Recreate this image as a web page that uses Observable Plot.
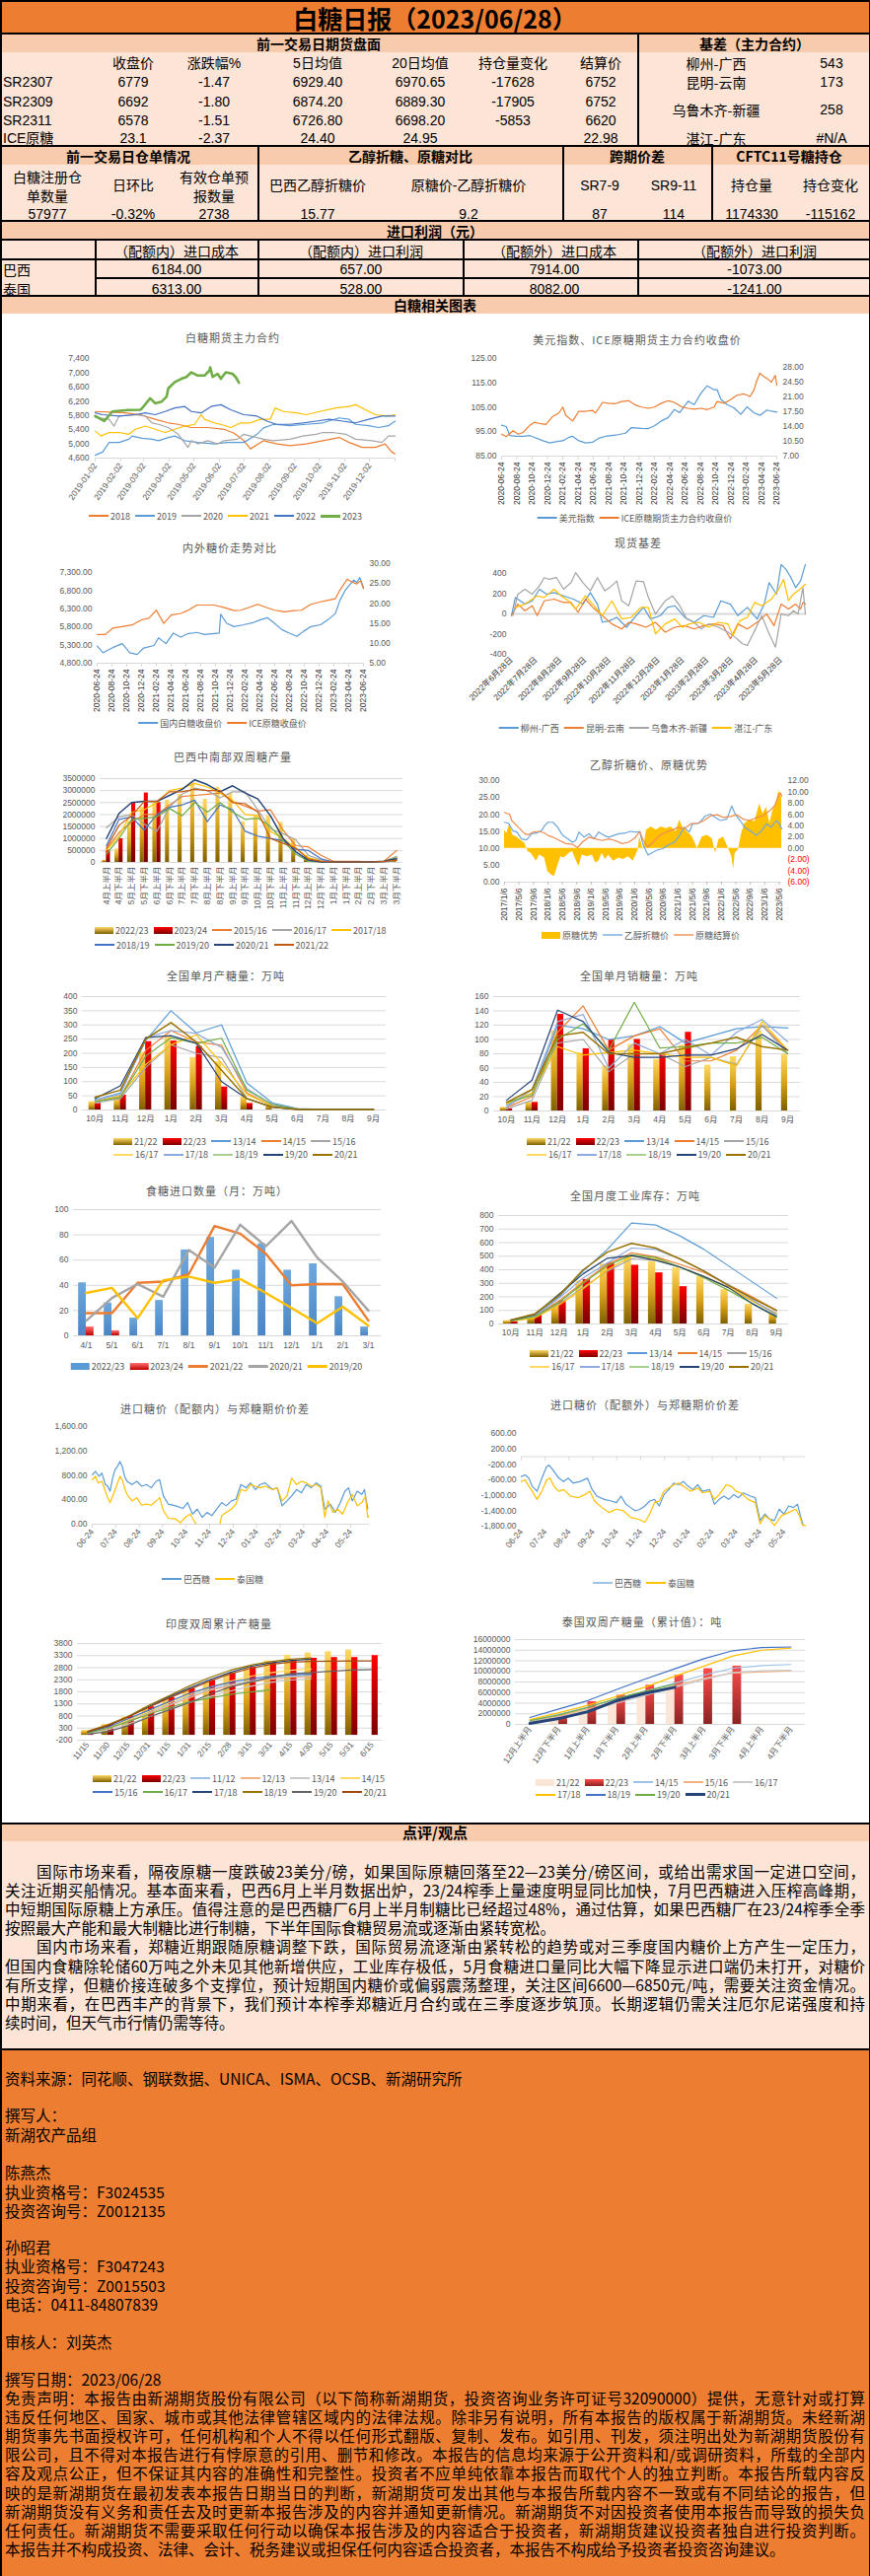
<!DOCTYPE html>
<html><head><meta charset="utf-8">
<script src="https://cdn.jsdelivr.net/npm/d3@7"></script>
<script src="https://cdn.jsdelivr.net/npm/@observablehq/plot@0.6"></script>
<style>
html,body{margin:0;padding:0;}
body{width:882px;height:2612px;position:relative;overflow:hidden;background:#fff;font-family:"Noto Sans CJK SC","Noto Sans",sans-serif;}
.abs{position:absolute;}
.t{position:absolute;white-space:nowrap;transform:translate(-50%,-50%);line-height:1.15;}
.l{position:absolute;white-space:nowrap;transform:translateY(-50%);line-height:1.15;}
</style></head><body>
<svg width="0" height="0" style="position:absolute;left:0;top:0">
<defs>
<linearGradient id="gGold" x1="0" y1="0" x2="0" y2="1"><stop offset="0" stop-color="#FFD966"/><stop offset="0.5" stop-color="#D9A21A"/><stop offset="1" stop-color="#7F6000"/></linearGradient>
<linearGradient id="gRed" x1="0" y1="0" x2="0" y2="1"><stop offset="0" stop-color="#FF0000"/><stop offset="1" stop-color="#7A0000"/></linearGradient>
<linearGradient id="gRed2" x1="0" y1="0" x2="0" y2="1"><stop offset="0" stop-color="#FF4B4B"/><stop offset="1" stop-color="#8B2323"/></linearGradient>
<linearGradient id="gRedL" x1="0" y1="0" x2="0" y2="1"><stop offset="0" stop-color="#FF7070"/><stop offset="1" stop-color="#C00000"/></linearGradient>
<linearGradient id="gBlue" x1="0" y1="0" x2="0" y2="1"><stop offset="0" stop-color="#6FA8DC"/><stop offset="1" stop-color="#4A86C5"/></linearGradient>
</defs></svg>
<script>
// ================= TABLE DATA =================
const reportTitle = "白糖日报（2023/06/28）";
const futHeader = "前一交易日期货盘面";
const futCols = ["收盘价","涨跌幅%","5日均值","20日均值","持仓量变化","结算价"];
const futRows = ["SR2307","SR2309","SR2311","ICE原糖"];
const futVals = [
  ["6779","-1.47","6929.40","6970.65","-17628","6752"],
  ["6692","-1.80","6874.20","6889.30","-17905","6752"],
  ["6578","-1.51","6726.80","6698.20","-5853","6620"],
  ["23.1","-2.37","24.40","24.95","","22.98"]];
const basisHeader = "基差（主力合约）";
const basisNames = ["柳州-广西","昆明-云南","乌鲁木齐-新疆","湛江-广东"];
const basisVals = ["543","173","258","#N/A"];
const sec2Headers = ["前一交易日仓单情况","乙醇折糖、原糖对比","跨期价差","CFTC11号糖持仓"];
const sec2Cols = [["白糖注册仓","单数量"],["日环比"],["有效仓单预","报数量"],["巴西乙醇折糖价"],["原糖价-乙醇折糖价"],["SR7-9"],["SR9-11"],["持仓量"],["持仓变化"]];
const sec2Vals = ["57977","-0.32%","2738","15.77","9.2","87","114","1174330","-115162"];
const profitHeader = "进口利润（元）";
const profitCols = ["（配额内）进口成本","（配额内）进口利润","（配额外）进口成本","（配额外）进口利润"];
const profitRows = ["巴西","泰国"];
const profitVals = [["6184.00","657.00","7914.00","-1073.00"],["6313.00","528.00","8082.00","-1241.00"]];
const chartsHeader = "白糖相关图表";
const commentHeader = "点评/观点";
const commentLines = [
"国际市场来看，隔夜原糖一度跌破23美分/磅，如果国际原糖回落至22—23美分/磅区间，或给出需求国一定进口空间，",
"关注近期买船情况。基本面来看，巴西6月上半月数据出炉，23/24榨季上量速度明显同比加快，7月巴西糖进入压榨高峰期，",
"中短期国际原糖上方承压。值得注意的是巴西糖厂6月上半月制糖比已经超过48%，通过估算，如果巴西糖厂在23/24榨季全季",
"按照最大产能和最大制糖比进行制糖，下半年国际食糖贸易流或逐渐由紧转宽松。",
"国内市场来看，郑糖近期跟随原糖调整下跌，国际贸易流逐渐由紧转松的趋势或对三季度国内糖价上方产生一定压力，",
"但国内食糖除轮储60万吨之外未见其他新增供应，工业库存极低，5月食糖进口量同比大幅下降显示进口端仍未打开，对糖价",
"有所支撑，但糖价接连破多个支撑位，预计短期国内糖价或偏弱震荡整理，关注区间6600—6850元/吨，需要关注资金情况。",
"中期来看，在巴西丰产的背景下，我们预计本榨季郑糖近月合约或在三季度逐步筑顶。长期逻辑仍需关注厄尔尼诺强度和持",
"续时间，但天气市行情仍需等待。"];
const footerLines = ["资料来源：同花顺、钢联数据、UNICA、ISMA、OCSB、新湖研究所","撰写人：","新湖农产品组","陈燕杰","执业资格号：F3024535","投资咨询号：Z0012135","孙昭君","执业资格号：F3047243","投资咨询号：Z0015503","电话：0411-84807839","审核人：刘英杰","撰写日期：2023/06/28"];
const disclaimerLines = [
"免责声明：本报告由新湖期货股份有限公司（以下简称新湖期货，投资咨询业务许可证号32090000）提供，无意针对或打算",
"违反任何地区、国家、城市或其他法律管辖区域内的法律法规。除非另有说明，所有本报告的版权属于新湖期货。未经新湖",
"期货事先书面授权许可，任何机构和个人不得以任何形式翻版、复制、发布。如引用、刊发，须注明出处为新湖期货股份有",
"限公司，且不得对本报告进行有悖原意的引用、删节和修改。本报告的信息均来源于公开资料和/或调研资料，所载的全部内",
"容及观点公正，但不保证其内容的准确性和完整性。投资者不应单纯依靠本报告而取代个人的独立判断。本报告所载内容反",
"映的是新湖期货在最初发表本报告日期当日的判断，新湖期货可发出其他与本报告所载内容不一致或有不同结论的报告，但",
"新湖期货没有义务和责任去及时更新本报告涉及的内容并通知更新情况。新湖期货不对因投资者使用本报告而导致的损失负",
"任何责任。新湖期货不需要采取任何行动以确保本报告涉及的内容适合于投资者，新湖期货建议投资者独自进行投资判断。",
"本报告并不构成投资、法律、会计、税务建议或担保任何内容适合投资者，本报告不构成给予投资者投资咨询建议。"];

// ================= CHART DATA =================
// Chart 1: 白糖期货主力合约 [day of year, price]
const sugar2018 = [[0,5910],[37,5870],[55,5820],[73,5690],[89,5590],[101,5550],[117,5460],[137,5460],[157,5410],[169,5300],[181,5090],[189,4860],[205,5090],[221,5000],[237,4950],[257,5000],[277,5090],[297,5180],[309,5040],[325,4900],[341,4900],[353,5000],[361,4770],[365,4720]];
const sugar2019 = [[0,4680],[9,4770],[17,5040],[29,5040],[41,5130],[45,5220],[57,5160],[69,5130],[77,5090],[89,5180],[97,5220],[109,5090],[125,5040],[145,5000],[161,5040],[181,5040],[197,5270],[205,5450],[217,5550],[237,5510],[257,5550],[277,5590],[297,5730],[309,5690],[317,5550],[333,5510],[345,5460],[357,5510],[365,5640]];
const sugar2020 = [[0,5750],[17,5690],[23,5500],[29,5780],[49,5820],[61,5780],[69,5590],[77,5550],[89,5460],[101,5270],[113,4900],[117,5090],[125,5000],[137,5090],[149,5000],[157,5090],[173,5130],[181,5270],[189,5220],[205,5130],[217,5090],[237,5130],[253,5220],[269,5270],[277,5320],[289,5320],[305,5270],[317,5130],[337,5090],[349,5040],[357,5220],[365,5220]];
const sugar2021 = [[0,5360],[7,5220],[17,5320],[29,5320],[41,5270],[49,5410],[61,5500],[73,5410],[85,5320],[97,5410],[109,5500],[121,5550],[129,5820],[133,5690],[145,5590],[153,5550],[165,5460],[177,5590],[189,5590],[201,5690],[213,5690],[219,6010],[229,5910],[245,5870],[257,5820],[273,5910],[293,6010],[309,6050],[317,6100],[329,5960],[341,5820],[357,5780],[365,5820]];
const sugar2022 = [[0,5870],[9,5820],[29,5780],[49,5820],[61,5870],[73,5820],[85,5910],[97,6010],[109,6050],[117,5910],[129,5870],[141,6050],[153,6100],[165,5960],[181,5820],[197,5780],[209,5640],[221,5550],[237,5550],[253,5590],[269,5640],[285,5690],[301,5640],[317,5590],[333,5690],[349,5780],[365,5780]];
const sugar2023 = [[0,5780],[11,5640],[21,5910],[40,5950],[55,5960],[57,6000],[67,6280],[73,6140],[81,6190],[87,6330],[89,6560],[97,6740],[105,6830],[111,6880],[117,7010],[125,6920],[133,6920],[139,7060],[140,7150],[143,6880],[149,6970],[153,6830],[159,7010],[167,6970],[171,6880],[175,6720]];
// Chart 2: 美元指数 / ICE原糖 [months since 2020-06-24, value]
const dollarIndex = [[0,97.7],[0.6,97.1],[1.1,93.4],[1.9,93.1],[2.8,93.1],[3.7,93.4],[4.3,92.7],[5.4,91.3],[6.3,90.4],[7.1,90.9],[8.0,91.3],[8.8,92.7],[9.3,93.1],[10.1,91.3],[11.0,90.4],[11.9,90.7],[12.7,92.3],[13.6,93.1],[14.9,93.6],[16.2,94.4],[17.0,96.7],[18.3,96.4],[19.2,96.3],[20.0,97.4],[20.9,99.4],[21.8,100.8],[22.6,104.1],[23.3,102.8],[24.4,107.5],[25.2,106.1],[26.1,110.9],[26.9,113.8],[27.8,112.2],[28.2,112.2],[28.7,108.2],[29.5,106.1],[30.4,104.8],[31.3,102.1],[32.1,105.2],[33.0,102.8],[33.8,101.7],[34.7,103.9],[35.3,103.4],[36.0,103.0]];
const iceClose = [[0,12.2],[0.6,11.6],[1.5,13.0],[2.2,12.2],[2.8,12.6],[3.7,14.3],[4.3,15.0],[5.0,14.7],[5.8,14.5],[6.7,16.4],[7.5,17.2],[8.0,18.6],[8.4,16.6],[9.3,15.3],[10.1,17.6],[11.0,17.6],[11.9,17.8],[12.3,17.2],[13.2,19.7],[14.0,19.5],[14.9,19.4],[15.7,19.9],[16.6,20.1],[17.5,19.1],[18.3,18.6],[19.2,18.3],[20.0,18.6],[20.9,19.5],[21.8,20.1],[22.6,19.7],[23.5,18.7],[24.4,18.3],[25.2,18.1],[26.1,18.3],[26.9,18.0],[27.8,18.6],[28.2,19.9],[29.1,19.5],[29.9,20.3],[30.8,21.4],[31.7,21.7],[32.5,21.1],[33.0,22.6],[33.4,24.9],[33.8,26.6],[34.3,25.8],[34.9,25.1],[35.3,24.5],[35.8,26.1],[36.0,23.8]];
// Chart 3: 内外糖价走势对比 [months since 2020-06-24, value]
const domesticClose = [[0,5270],[0.8,5090],[2.1,5230],[3.4,5340],[4.4,5090],[5.4,5040],[6.3,5220],[7.7,5290],[8.3,5500],[9.3,5340],[10.3,5630],[11.3,5520],[12.2,5610],[13.5,5650],[14.5,5590],[15.5,5610],[16.5,5630],[16.7,6150],[17.5,5900],[18.5,5810],[19.8,5860],[21.1,5920],[22.1,6000],[23.0,6055],[23.7,5950],[25.0,5720],[26.0,5630],[27.0,5540],[27.9,5680],[28.9,5810],[30.2,5860],[31.2,6000],[32.2,6170],[32.8,6530],[33.5,6800],[34.2,6980],[34.7,7090],[35.1,7020],[35.5,7160],[36.0,6890]];
const iceRawClose = [[0,12.2],[1.1,12.2],[2.1,13.8],[3.4,14.2],[4.7,14.6],[6.0,15.9],[7.0,16.3],[8.0,18.3],[9.0,15.0],[10.0,17.1],[11.3,17.5],[12.2,18.2],[13.5,19.6],[14.5,19.6],[15.8,19.6],[17.1,19.0],[18.5,18.2],[19.4,18.3],[20.7,19.1],[21.7,19.8],[22.7,19.1],[24.0,18.3],[25.3,17.9],[26.6,18.2],[27.6,18.3],[28.9,19.8],[30.2,20.4],[31.2,20.8],[32.2,21.2],[32.8,23.3],[33.8,26.1],[34.5,25.3],[35.1,24.9],[35.6,25.7],[36.0,23.7]];
// Chart 4: 现货基差 [months since 2022-06-28, value]
const basisGX = [[0,-16],[0.16,164],[0.36,131],[0.55,98],[0.85,131],[1.14,246],[1.44,197],[1.74,213],[2.13,180],[2.53,148],[2.92,98],[3.22,213],[3.51,98],[3.71,-82],[4.01,-66],[4.3,-33],[4.7,-131],[5.09,-16],[5.39,66],[5.68,-49],[6.08,-16],[6.37,66],[6.67,82],[7.07,-33],[7.46,-82],[7.85,-16],[8.25,-33],[8.55,131],[8.94,98],[9.24,-16],[9.63,66],[10.03,-49],[10.32,98],[10.52,311],[10.82,197],[11.01,492],[11.21,443],[11.41,361],[11.6,262],[11.8,328],[12.0,492]];
const basisYN = [[0,-16],[0.26,98],[0.55,33],[0.85,82],[1.05,-16],[1.34,131],[1.74,148],[2.13,115],[2.43,115],[2.72,16],[3.02,148],[3.32,66],[3.71,-16],[4.1,-98],[4.5,-148],[4.79,-82],[5.09,-98],[5.49,-131],[5.88,-82],[6.28,-180],[6.67,-131],[7.07,-115],[7.46,-148],[7.85,-115],[8.25,-98],[8.64,-115],[8.94,-246],[9.24,-98],[9.63,-148],[10.03,-82],[10.42,0],[10.72,-115],[11.01,98],[11.31,49],[11.6,98],[11.8,49],[11.9,115],[12.0,98]];
const basisXJ = [[0.06,-16],[0.26,197],[0.55,246],[0.85,197],[1.14,279],[1.34,361],[1.54,344],[1.84,361],[2.13,246],[2.43,311],[2.62,410],[2.92,311],[3.22,230],[3.51,361],[3.81,230],[4.01,262],[4.3,328],[4.5,131],[4.79,82],[5.09,328],[5.39,321],[5.59,164],[5.88,0],[6.28,131],[6.57,180],[6.87,82],[7.16,-49],[7.46,-82],[7.75,-148],[8.05,-98],[8.45,-131],[8.84,-180],[9.14,-230],[9.43,-295],[9.63,-311],[9.93,-164],[10.22,-16],[10.52,-197],[10.78,-328],[11.01,0],[11.31,-16],[11.51,33],[11.7,0],[11.9,262],[12.0,0]];
const basisGD = [[0.16,66],[0.55,98],[1.05,180],[1.34,164],[1.74,246],[2.03,180],[2.33,131],[2.62,49],[3.02,180],[3.32,98],[3.71,-16],[4.1,131],[4.5,-49],[4.89,-33],[5.29,66],[5.59,66],[5.88,-197],[6.28,-98],[6.67,-49],[6.97,-131],[7.26,-98],[7.66,-82],[8.05,-131],[8.45,-82],[8.84,-98],[9.04,-213],[9.33,-66],[9.63,-33],[9.93,115],[10.22,82],[10.62,148],[10.91,246],[11.11,344],[11.31,131],[11.51,197],[11.7,230],[12.0,295]];
// Chart 5: 巴西中南部双周糖产量 (百万吨)
const brHalfMonths = ["4月上半月","4月下半月","5月上半月","5月下半月","6月上半月","6月下半月","7月上半月","7月下半月","8月上半月","8月下半月","9月上半月","9月下半月","10月上半月","10月下半月","11月上半月","11月下半月","12月上半月","12月下半月","1月上半月","1月下半月","2月上半月","2月下半月","3月上半月","3月下半月"];
const br2223 = [0.10,0.56,1.70,2.30,2.50,2.60,2.84,3.32,2.64,3.14,2.87,1.70,1.95,1.95,1.67,1.00,0.30,0.10,0.02,0.01,0.01,0.01,0.03,0.10];
const br2324 = [0.51,0.99,2.50,2.90,2.50];
const br1516 = [0.55,1.25,1.70,2.00,2.00,2.40,2.75,2.80,2.85,2.90,2.55,2.35,2.15,2.20,1.35,0.70,0.65,0.30,0.05,0.05,0.05,0.02,0.05,0.50];
const br1617 = [1.45,1.90,2.00,1.60,1.30,2.30,2.85,3.10,3.00,2.70,2.95,2.95,2.20,1.40,1.20,0.95,0.30,0.10,0.02,0.02,0.02,0.02,0.05,0.25];
const br1718 = [0.50,1.10,2.10,2.20,2.50,3.00,3.10,3.30,3.15,2.90,2.60,2.00,1.95,1.30,1.00,0.60,0.20,0.05,0.02,0.02,0.02,0.02,0.02,0.10];
const br1819 = [0.70,1.80,1.90,1.35,2.00,2.30,2.40,2.60,1.70,2.40,2.20,1.30,1.10,1.00,0.90,0.55,0.50,0.15,0.02,0.02,0.02,0.02,0.02,0.10];
const br1920 = [0.35,1.00,1.80,1.85,1.90,2.25,1.95,2.50,2.10,2.50,2.10,1.80,1.85,1.50,0.90,0.35,0.05,0.02,0.02,0.02,0.02,0.02,0.05,0.20];
const br2021 = [1.00,2.05,2.50,2.55,2.55,2.80,3.05,3.45,3.25,2.95,3.20,2.90,2.65,1.95,1.00,0.45,0.10,0.02,0.02,0.02,0.02,0.02,0.05,0.15];
const br2122 = [0.60,1.55,1.95,2.55,2.55,2.95,2.95,3.05,3.00,3.00,2.50,2.45,2.10,1.00,0.80,0.60,0.15,0.05,0.02,0.02,0.02,0.02,0.05,0.10];
// Chart 6: 乙醇折糖价、原糖优势 [months since 2017-01-06, value]
const rawSettle = [[0,20.6],[0.6,20.3],[1.4,20.1],[2.0,18.2],[2.9,17.2],[4.3,15.7],[5.6,14.3],[6.5,14.0],[7.9,14.8],[9.7,15.0],[11.1,14.5],[12.0,13.8],[13.4,13.3],[15.2,12.3],[17.0,11.4],[18.8,11.2],[20.2,10.2],[21.5,11.8],[23.4,13.3],[25.2,12.8],[27.0,12.3],[28.8,12.8],[30.6,12.3],[32.5,11.4],[34.3,11.8],[36.1,13.1],[37.4,15.0],[38.4,12.3],[39.7,10.4],[41.1,11.8],[42.9,13.8],[44.7,14.8],[46.5,15.4],[47.9,16.2],[49.7,15.7],[51.5,17.2],[53.4,17.4],[55.2,18.2],[57.0,19.6],[58.8,19.9],[60.6,19.1],[62.5,19.4],[64.3,19.9],[66.1,18.6],[67.9,18.2],[69.7,19.1],[71.5,19.6],[73.4,21.1],[74.7,22.5],[75.6,24.9],[76.3,26.4],[76.7,25.4]];
const ethanolSugar = [[0,17.7],[1.1,17.4],[2.3,15.2],[3.4,14.8],[4.7,12.8],[6.1,12.5],[7.5,14.3],[8.8,14.5],[10.2,15.2],[11.1,16.7],[12.0,17.7],[13.4,17.7],[14.7,16.2],[16.1,13.8],[17.5,12.8],[18.8,11.8],[19.7,12.3],[20.6,14.8],[22.0,13.3],[23.4,14.3],[24.7,12.8],[26.1,14.8],[27.5,13.8],[28.8,13.3],[30.2,13.8],[31.6,14.3],[33.4,14.5],[34.7,15.0],[36.1,14.8],[37.4,14.8],[38.4,10.9],[39.7,8.0],[41.1,8.9],[42.5,9.6],[43.8,9.9],[45.2,10.9],[47.0,11.8],[48.4,13.8],[49.7,16.2],[51.1,14.8],[52.0,17.2],[53.8,17.4],[55.6,19.6],[57.0,20.1],[58.4,19.1],[59.7,18.2],[61.5,18.6],[62.9,22.5],[63.8,20.1],[65.2,18.2],[66.5,16.2],[67.9,15.2],[69.7,13.8],[71.1,15.2],[72.5,17.2],[73.8,16.2],[75.2,18.2],[76.1,17.2],[76.7,15.7]];
const rawAdvantage = [[0,3.2],[0.6,2.6],[1.5,4.4],[2.3,2.3],[3.4,2.0],[4.3,1.5],[5.6,0.9],[6.5,-0.6],[7.4,-0.9],[8.8,-2.3],[9.7,-1.2],[11.1,-1.7],[12.0,-4.1],[12.9,-4.7],[13.8,-5.0],[14.7,-3.2],[15.6,-1.5],[16.5,-1.7],[17.9,-0.9],[18.8,-0.6],[19.7,-2.0],[20.6,-3.2],[21.5,-1.2],[22.9,-1.5],[24.3,-1.2],[25.2,-2.6],[26.1,-2.3],[27.0,-0.9],[27.9,-2.0],[28.8,-1.2],[30.2,-2.3],[31.6,-1.7],[32.9,-2.0],[34.3,-1.5],[35.6,-2.3],[37.0,-0.3],[37.4,2.0],[38.4,-0.3],[39.3,3.2],[40.6,3.8],[42.0,3.2],[43.4,3.8],[44.7,3.5],[46.1,3.8],[47.5,2.9],[48.4,5.0],[49.3,3.8],[50.6,2.9],[52.0,2.0],[53.4,0],[54.7,2.0],[56.1,2.3],[57.5,1.7],[58.4,-0.9],[59.3,1.5],[60.6,2.0],[62.0,0],[62.9,-1.5],[63.4,-3.8],[63.8,-0.9],[64.7,-0.3],[65.6,2.6],[66.5,4.4],[67.9,5.0],[69.3,4.7],[70.6,7.9],[71.5,6.1],[72.5,7.3],[73.4,4.4],[74.3,6.7],[75.2,7.9],[75.9,10.2],[76.5,9.0],[76.7,9.6]];
// Charts 7,8,10: 月度 (万吨)
const seasonMonths = ["10月","11月","12月","1月","2月","3月","4月","5月","6月","7月","8月","9月"];
const prod2122 = [29,41,203,261,185,170,46,17,null,null,null,null];
const prod2223 = [23,52,241,243,224,81,23,null,null,null,null,null];
const prod1314 = [35,60,245,350,272,300,95,25,5,2,2,2];
const prod1415 = [30,45,210,280,240,228,60,15,3,2,2,2];
const prod1516 = [25,40,150,230,200,185,40,10,2,2,2,2];
const prod1617 = [30,50,160,230,265,165,55,15,3,2,2,2];
const prod1718 = [35,55,255,280,270,220,75,18,3,2,2,2];
const prod1819 = [30,45,190,255,235,253,70,20,3,2,2,2];
const prod1920 = [40,85,255,262,235,100,40,10,2,2,2,2];
const prod2021 = [45,70,250,308,240,140,40,10,2,2,2,2];
const sales2122 = [5,12,112,81,63,93,72,92,64,76,112,79];
const sales2223 = [3,12,135,87,99,100,79,110,null,null,null,null];
const sales1314 = [8,25,120,115,100,105,118,95,105,115,118,116];
const sales1415 = [5,20,110,147,85,105,115,70,70,85,120,85];
const sales1516 = [3,15,95,100,55,80,80,62,75,65,120,80];
const sales1617 = [10,25,90,78,82,85,80,75,75,63,125,85];
const sales1718 = [5,30,125,135,60,95,80,100,78,110,128,97];
const sales1819 = [12,22,100,122,85,152,88,90,95,95,103,80];
const sales1920 = [15,43,141,125,82,75,75,78,78,87,107,85];
const sales2021 = [12,30,105,110,80,80,80,88,95,103,90,85];
const stock2122 = [24,66,146,316,443,494,462,414,348,255,146,85];
const stock2223 = [17,66,170,328,450,433,377,275,null,null,null,null];
const stock1314 = [25,60,200,390,550,745,730,650,550,430,310,190];
const stock1415 = [20,55,170,310,440,525,495,440,380,290,200,100];
const stock1516 = [20,50,150,270,390,480,470,420,350,270,170,80];
const stock1617 = [20,45,140,260,400,500,480,420,350,270,170,70];
const stock1718 = [25,60,190,340,450,560,550,480,390,290,180,65];
const stock1819 = [25,55,160,300,430,510,490,420,340,250,150,50];
const stock1920 = [28,70,220,370,485,505,470,420,350,270,150,55];
const stock2021 = [30,75,210,400,530,595,560,480,390,285,190,100];
// Chart 9: 食糖进口数量 (万吨)
const importMonths = ["4/1","5/1","6/1","7/1","8/1","9/1","10/1","11/1","12/1","1/1","2/1","3/1"];
const imp2223 = [42,26,14,28,68,78,52,73,52,57,31,7];
const imp2324 = [7,4,null,null,null,null,null,null,null,null,null,null];
const imp2122 = [18,18,42,43,49,87,81,65,40,41,41,12];
const imp2021 = [12,30,41,31,68,54,88,71,91,62,43,20];
const imp1920 = [34,38,14,44,47,42,45,34,22,10,23,8];
// Chart 11/12: 进口糖价与郑糖期价价差 [months since 2022-06-24, value]
const quotaInBR = [[0,811],[0.14,865],[0.29,784],[0.41,838],[0.56,650],[0.66,623],[0.76,542],[0.87,757],[0.97,891],[1.07,945],[1.18,1026],[1.28,945],[1.38,784],[1.48,703],[1.69,650],[1.9,703],[2.1,623],[2.31,650],[2.51,596],[2.72,703],[2.87,730],[3.03,462],[3.24,328],[3.55,301],[3.86,258],[4.06,354],[4.27,166],[4.47,247],[4.68,113],[4.89,193],[5.09,140],[5.3,247],[5.51,354],[5.71,301],[5.92,381],[6.12,408],[6.33,650],[6.54,596],[6.74,677],[6.95,569],[7.15,650],[7.36,677],[7.67,569],[7.88,596],[8.08,301],[8.29,381],[8.49,462],[8.7,569],[8.91,515],[9.11,650],[9.32,596],[9.53,677],[9.73,623],[9.9,247],[10.14,328],[10.35,193],[10.56,354],[10.76,542],[10.91,596],[11.07,381],[11.28,542],[11.48,489],[11.59,569],[11.73,247]];
const quotaInTH = [[0,730],[0.14,784],[0.25,677],[0.41,703],[0.56,542],[0.66,435],[0.76,354],[0.87,462],[1.03,623],[1.18,784],[1.28,730],[1.38,596],[1.48,489],[1.69,381],[1.9,435],[2.1,311],[2.31,328],[2.51,311],[2.72,381],[2.87,435],[3.03,220],[3.24,97],[3.55,86],[3.76,21],[3.96,113],[4.17,166],[4.37,32],[4.58,-60],[4.78,-60],[4.99,-60],[5.2,-60],[5.4,-60],[5.51,140],[5.71,193],[5.92,247],[6.12,328],[6.33,569],[6.54,542],[6.74,650],[6.95,623],[7.15,596],[7.36,623],[7.67,569],[7.88,596],[8.08,381],[8.29,462],[8.49,757],[8.7,650],[8.91,703],[9.11,677],[9.32,623],[9.53,650],[9.73,596],[9.9,113],[10.04,381],[10.25,193],[10.45,247],[10.66,166],[10.87,354],[11.07,489],[11.28,301],[11.48,354],[11.63,462],[11.73,113],[11.79,140]];
const quotaOutBR = [[0,-515],[0.16,-473],[0.32,-558],[0.46,-769],[0.66,-896],[0.86,-558],[1.06,-262],[1.16,-220],[1.33,-346],[1.57,-558],[1.77,-642],[1.97,-558],[2.17,-684],[2.47,-642],[2.77,-558],[2.97,-853],[3.17,-1022],[3.47,-1107],[3.78,-1149],[3.98,-1191],[4.18,-1022],[4.38,-1234],[4.58,-1318],[4.78,-1403],[4.98,-1360],[5.18,-1276],[5.38,-1149],[5.58,-1107],[5.78,-1276],[5.98,-980],[6.18,-853],[6.39,-684],[6.59,-727],[6.79,-642],[6.99,-769],[7.19,-853],[7.39,-727],[7.59,-896],[7.89,-853],[8.09,-1234],[8.29,-1107],[8.49,-1022],[8.69,-1107],[8.9,-980],[9.1,-1064],[9.3,-938],[9.6,-1022],[9.8,-1064],[10.0,-1656],[10.2,-1487],[10.4,-1614],[10.6,-1656],[10.8,-1360],[11.0,-1487],[11.2,-1276],[11.4,-1318],[11.57,-1234],[11.71,-1572],[11.81,-1783]];
const quotaOutTH = [[0,-642],[0.16,-600],[0.32,-769],[0.46,-896],[0.66,-1107],[0.86,-896],[1.06,-600],[1.2,-558],[1.37,-769],[1.57,-896],[1.77,-853],[2.07,-1022],[2.37,-1064],[2.67,-980],[2.87,-896],[3.07,-1149],[3.37,-1318],[3.67,-1445],[3.98,-1360],[4.28,-1403],[4.58,-1572],[4.88,-1614],[5.18,-1698],[5.38,-1487],[5.58,-1191],[5.78,-1149],[5.98,-896],[6.18,-811],[6.39,-727],[6.59,-684],[6.79,-769],[7.09,-896],[7.39,-811],[7.59,-938],[7.89,-896],[8.09,-1107],[8.29,-980],[8.59,-727],[8.8,-769],[9.0,-896],[9.2,-938],[9.5,-1107],[9.8,-1191],[10.0,-1741],[10.2,-1529],[10.4,-1614],[10.6,-1783],[10.9,-1529],[11.2,-1445],[11.5,-1360],[11.65,-1529],[11.77,-1766],[11.91,-1783]];
// Chart 13: 印度双周累计产糖量
const indiaDates = ["11/15","11/30","12/15","12/31","1/15","1/31","2/15","2/28","3/15","3/31","4/15","4/30","5/15","5/31","6/15"];
const in2122 = [200,450,760,1140,1500,1870,2210,2520,2810,3080,3310,3410,3460,3530,null];
const in2223 = [60,450,790,1180,1560,1930,2270,2570,2810,2990,3110,3190,3220,3220,3300];
const in1112 = [100,290,580,930,1270,1620,1900,2100,2250,2380,2450,2480];
const in1213 = [90,270,560,900,1230,1550,1850,2050,2200,2320,2400,2430];
const in1314 = [70,230,470,760,1060,1350,1600,1830,2030,2190,2290,2340];
const in1415 = [110,320,640,990,1340,1690,1990,2240,2440,2590,2690,2740];
const in1516 = [120,340,690,1040,1390,1740,1990,2190,2340,2440,2510,2530];
const in1617 = [100,290,570,870,1140,1390,1540,1690,1790,1890];
const in1718 = [140,390,770,1190,1590,1950,2300,2600,2850,3000,3100,3150];
const in1819 = [170,440,790,1240,1640,2040,2390,2690,2900,3050,3150,3200];
const in1920 = [50,150,400,750,1050,1350,1700,2000,2200,2400,2550,2600,2650,2700,2720];
const in2021 = [140,410,760,1160,1540,1890,2240,2540,2770,2940,3030,3060,3070,3080,3080];
// Chart 14: 泰国双周产糖量（累计值，百万吨）
const thaiHalfMonths = ["12月上半月","12月下半月","1月上半月","1月下半月","2月上半月","2月下半月","3月上半月","3月下半月","4月上半月","4月下半月"];
const th2122 = [null,1.0,2.4,4.3,5.5,6.8,null,null,null,null];
const th2223 = [null,1.8,4.3,5.5,7.4,9.3,10.5,11.0,null,null];
const th1415 = [0.8,1.9,3.3,4.8,6.3,7.8,9.3,10.6,11.1,11.3];
const th1516 = [0.6,1.6,2.9,4.4,5.8,7.3,8.7,9.7,9.9,10.1];
const th1617 = [0.5,1.4,2.6,4.0,5.5,7.0,8.5,9.8,10.1,10.2];
const th1718 = [0.9,2.2,3.6,5.3,7.1,9.1,11.0,12.9,14.0,14.4];
const th1819 = [1.3,2.9,4.5,6.6,8.6,10.5,12.4,13.9,14.5,14.6];
const th1920 = [0.7,1.8,3.2,4.9,6.3,7.6];
const th2021 = [0.2,1.1,2.4,4.5,5.9,7.0];

// ================= HELPERS =================
const CJK = '"Noto Sans CJK SC","Noto Sans",sans-serif';
const NUM = '"Liberation Sans Narrow","Liberation Sans","Noto Sans CJK SC",sans-serif';
const AX = '"Liberation Sans","Noto Sans CJK SC",sans-serif';
const B = document.body;
function box(x,y,w,h,bg){const d=document.createElement("div");d.className="abs";d.style.cssText+=`left:${x}px;top:${y}px;width:${w}px;height:${h}px;background:${bg};`;B.appendChild(d);return d;}
function hline(x1,x2,y,t=1.5){box(x1,y-t/2,x2-x1,t,"#000");}
function vline(x,y1,y2,t=1.5){box(x-t/2,y1,t,y2-y1,"#000");}
function text(x,y,s,o={}){const d=document.createElement("div");d.className=o.left?"l":"t";d.textContent=s;
  d.style.cssText+=`left:${x}px;top:${y}px;font-size:${o.size||14}px;font-weight:${o.bold?700:400};color:${o.color||"#000"};font-family:${o.font||CJK};`+(o.ls?`letter-spacing:${o.ls};`:"");
  B.appendChild(d);return d;}
function para(x,y,w,s,o={}){const d=document.createElement("div");d.className="l";d.textContent=s;
  d.style.cssText+=`left:${x}px;top:${y}px;width:${w}px;font-size:${o.size||15.5}px;color:#000;font-family:${CJK};white-space:nowrap;text-align:justify;text-align-last:${o.last?"left":"justify"};`;
  B.appendChild(d);}
function place(svg,x,y){svg.style.position="absolute";svg.style.left=x+"px";svg.style.top=y+"px";B.appendChild(svg);}
function ctitle(x,y,s){text(x,y,s,{size:11,color:"#595959",ls:"1px"});}
function legend(rows,x,y,o={}){
  const c=document.createElement("div");
  const rh=o.rowH||14;
  c.style.cssText=`position:absolute;left:${x}px;top:${y-rh/2}px;font:9px ${CJK};color:#595959;white-space:nowrap;`+(o.center?"transform:translateX(-50%);":"");
  rows.forEach(row=>{const r=document.createElement("div");r.style.cssText=`display:flex;align-items:center;height:${rh}px;`+(o.center?"justify-content:center;":"");
    row.forEach(([lab,type,col,w])=>{const it=document.createElement("span");it.style.cssText="display:inline-flex;align-items:center;margin-right:5px;";
      const sw=document.createElement("span");
      if(type==="bar")sw.style.cssText=`display:inline-block;width:19px;height:7px;background:${col};margin-right:2px;`;
      else sw.style.cssText=`display:inline-block;width:20px;height:${w||2}px;background:${col};margin-right:2px;`;
      const t=document.createElement("span");t.textContent=lab;it.appendChild(sw);it.appendChild(t);r.appendChild(it);});
    c.appendChild(r);});
  B.appendChild(c);}
const fmtL = d3.formatLocale({decimal:".",thousands:",",grouping:[3],currency:["",""],minus:"-"});
const f2=fmtL.format(".2f"), fc2=fmtL.format(",.2f"), fc0=fmtL.format(","), fd=fmtL.format("d");
const baseStyle={fontSize:"8.5px",fontFamily:AX,color:"#595959",background:"transparent",overflow:"visible"};
const LS=(data,stroke,w=1.2,y=d=>d[1],extra={})=>Plot.line(data,{x:d=>d[0],y,stroke,strokeWidth:w,...extra});
const DARK="#333333";

function catChart(o){
  const n=o.cats.length;
  const marks=[
    Plot.gridY(o.yTicks,{stroke:"#D9D9D9",strokeOpacity:1}),
    Plot.axisY(o.yTicks,{tickSize:0,tickPadding:5,tickFormat:o.yFmt||fd,label:null}),
    Plot.axisX(d3.range(n),{tickSize:0,tickPadding:o.pad||4,tickFormat:i=>o.cats[i],tickRotate:o.rotate||0,label:null})
  ];
  (o.bars||[]).forEach(b=>{
    const data=b.vals.map((v,i)=>({i,v:v==null?null:v*(o.k||1)})).filter(d=>d.v!=null);
    marks.push(Plot.rect(data,{x1:d=>d.i+b.o1,x2:d=>d.i+b.o2,y1:()=>0,y2:d=>d.v,fill:b.fill}));
  });
  (o.lines||[]).forEach(l=>{
    const data=l.vals.map((v,i)=>({i,v:v==null?null:v*(o.k||1)})).filter(d=>d.v!=null);
    marks.push(Plot.line(data,{x:d=>d.i,y:d=>d.v,stroke:l.color,strokeWidth:l.w||1.2}));
  });
  const svg=Plot.plot({width:o.w,height:o.h,marginLeft:o.ml,marginRight:o.mr,marginTop:o.mt,marginBottom:o.mb,style:baseStyle,
    x:{domain:[-0.5,n-0.5]},y:{domain:o.yDomain},marks});
  place(svg,o.x,o.y);
}

// ================= PAGE FRAME =================
box(0,0,882,34,"#ED7D31");
box(0,34,882,19,"#F8CBAD"); box(0,53,882,95,"#FCE4D6");
box(0,148,882,19,"#F8CBAD"); box(0,167,882,57,"#FCE4D6");
box(0,224,882,19,"#F8CBAD"); box(0,243,882,57,"#FCE4D6");
box(0,300,882,18,"#F8CBAD");
box(0,318,882,1531,"#FFFFFF");
box(0,1849,882,18,"#F8CBAD"); box(0,1867,882,211,"#FCE4D6");
box(0,2078,882,534,"#ED7D31");

hline(0,882,0.75); hline(0,882,34); hline(0,882,148); hline(0,882,224); hline(0,882,243); hline(0,882,263); hline(97,882,282); hline(0,882,300);
vline(647,34,148); vline(262,148,224); vline(571,148,224); vline(722,148,224);
vline(97,243,300); vline(262,243,300); vline(470,243,300); vline(647,243,300);
hline(0,882,1849); hline(0,882,2078);
vline(0.75,0,2612); vline(881.25,0,2612);

// Title
text(441,18,reportTitle,{size:25,bold:true});
// Futures table
text(323,44,futHeader,{bold:true});
text(765,44,basisHeader,{bold:true});
const futColX=[135,217,322,426,520,609], futRowY=[83,103,122,140];
futCols.forEach((c,j)=>text(futColX[j],64,c,{font:NUM}));
futRows.forEach((r,i)=>{text(3,futRowY[i],r,{left:true,font:NUM});futVals[i].forEach((v,j)=>{if(v)text(futColX[j],futRowY[i],v,{font:NUM});});});
const basisY=[64,83,111,140];
basisNames.forEach((nm,i)=>{text(726,basisY[i],nm);text(843,basisY[i],basisVals[i],{font:NUM});});
// Section 2
[130,416,646,800].forEach((x,j)=>text(x,158,sec2Headers[j],{bold:true}));
const s2X=[48,135,217,322,475,608,683,762,842];
sec2Cols.forEach((c,j)=>{if(c.length===2){text(s2X[j],179,c[0]);text(s2X[j],198,c[1]);}else text(s2X[j],188,c[0],{font:NUM});});
sec2Vals.forEach((v,j)=>text(s2X[j],217,v,{font:NUM}));
// Import profit
text(441,234,profitHeader,{bold:true});
const pX=[179,366,562,765], pY=[273,293];
profitCols.forEach((c,j)=>text(pX[j],254,c));
profitRows.forEach((r,i)=>{text(3,pY[i],r,{left:true});profitVals[i].forEach((v,j)=>text(pX[j],pY[i],v,{font:NUM}));});
text(441,309,chartsHeader,{bold:true});

// ================= CHARTS =================
// 1 白糖期货主力合约
{
  const start=Date.UTC(2019,0,2);
  const ticks=d3.range(13).map(k=>(Date.UTC(2019,k,2)-start)/864e5);
  const svg=Plot.plot({width:380,height:160,marginLeft:66,marginRight:10,marginTop:8,marginBottom:51,style:baseStyle,
    x:{domain:[0,365]},y:{domain:[4600,7400]},
    marks:[
      Plot.axisY(d3.range(4600,7401,400),{tickSize:0,tickPadding:6,tickFormat:fc0,label:null}),
      Plot.ruleY([4600],{stroke:"#D9D9D9"}),
      Plot.axisX(ticks,{tickSize:4,stroke:"#D9D9D9",tickRotate:-55,tickPadding:2,label:null,
        tickFormat:d=>d>=364?"":d3.utcFormat("%Y-%m-%d")(new Date(start+d*864e5))}),
      LS(sugar2018,"#ED7D31"),LS(sugar2019,"#5B9BD5"),LS(sugar2020,"#A5A5A5"),LS(sugar2021,"#FFC000"),LS(sugar2022,"#4472C4"),LS(sugar2023,"#70AD47",2.6)
    ]});
  place(svg,30,355);
  ctitle(236,342,"白糖期货主力合约");
  legend([[["2018","line","#ED7D31"],["2019","line","#5B9BD5"],["2020","line","#A5A5A5"],["2021","line","#FFC000"],["2022","line","#4472C4"],["2023","line","#70AD47",3]]],231,523,{center:true});
}
// 2 美元指数、ICE
{
  const toL=v=>85+(v-7)*36.4/21, start=Date.UTC(2020,5,24);
  const svg=Plot.plot({width:380,height:160,marginLeft:53,marginRight:48,marginTop:8,marginBottom:53,style:baseStyle,
    x:{domain:[0,36]},y:{domain:[85,125]},
    marks:[
      Plot.axisY(d3.range(85,126,10),{tickSize:0,tickPadding:5,tickFormat:f2,label:null}),
      Plot.text([7,10.5,14,17.5,21,24.5,28],{y:d=>toL(d),text:d=>f2(d),frameAnchor:"right",textAnchor:"start",dx:6,fill:"#595959",fontSize:8.5}),
      Plot.ruleY([85],{stroke:"#D9D9D9"}),
      Plot.axisX(d3.range(0,37,2),{tickSize:4,stroke:"#D9D9D9",fill:DARK,tickRotate:-90,tickPadding:2,label:null,
        tickFormat:m=>d3.utcFormat("%Y-%m-%d")(d3.utcMonth.offset(new Date(start),m))}),
      LS(dollarIndex,"#5B9BD5"),
      LS(iceClose,"#ED7D31",1.2,d=>toL(d[1]))
    ]});
  place(svg,455,355);
  ctitle(646,344,"美元指数、ICE原糖期货主力合约收盘价");
  legend([[["美元指数","line","#5B9BD5"],["ICE原糖期货主力合约收盘价","line","#ED7D31"]]],646,525,{center:true});
}
// 3 内外糖价走势对比
{
  const toL=v=>4800+(v-5)*2745/25, start=Date.UTC(2020,5,24);
  const svg=Plot.plot({width:370,height:160,marginLeft:68,marginRight:32,marginTop:8,marginBottom:51,style:baseStyle,
    x:{domain:[0,36]},y:{domain:[4800,7545]},
    marks:[
      Plot.axisY(d3.range(4800,7301,500),{tickSize:0,tickPadding:5,tickFormat:fc2,label:null}),
      Plot.text([5,10,15,20,25,30],{y:d=>toL(d),text:d=>f2(d),frameAnchor:"right",textAnchor:"start",dx:6,fill:"#595959",fontSize:8.5}),
      Plot.ruleY([4800],{stroke:"#D9D9D9"}),
      Plot.axisX(d3.range(0,37,2),{tickSize:4,stroke:"#D9D9D9",fill:DARK,tickRotate:-90,tickPadding:2,label:null,
        tickFormat:m=>d3.utcFormat("%Y-%m-%d")(d3.utcMonth.offset(new Date(start),m))}),
      LS(domesticClose,"#5B9BD5"),
      LS(iceRawClose,"#ED7D31",1.2,d=>toL(d[1]))
    ]});
  place(svg,30,563);
  ctitle(233,555,"内外糖价走势对比");
  legend([[["国内白糖收盘价","line","#5B9BD5"],["ICE原糖收盘价","line","#ED7D31"]]],228,733,{center:true});
}
// 4 现货基差
{
  const start=Date.UTC(2022,5,28);
  const svg=Plot.plot({width:370,height:160,marginLeft:48,marginRight:24,marginTop:8,marginBottom:60,style:baseStyle,
    x:{domain:[0,12]},y:{domain:[-400,500]},
    marks:[
      Plot.axisY([-400,-200,0,200,400],{tickSize:0,tickPadding:5,tickFormat:fd,label:null}),
      Plot.ruleY([0],{stroke:"#D9D9D9",strokeWidth:2}),
      Plot.axisX(d3.range(12),{tickSize:0,fill:DARK,tickRotate:-45,tickPadding:4,label:null,
        tickFormat:m=>d3.utcFormat("%Y年%-m月%-d日")(d3.utcMonth.offset(new Date(start),m))}),
      LS(basisGX,"#5B9BD5"),LS(basisYN,"#ED7D31"),LS(basisXJ,"#A5A5A5"),LS(basisGD,"#FFC000")
    ]});
  place(svg,470,563);
  ctitle(647,550,"现货基差");
  legend([[["柳州-广西","line","#5B9BD5"],["昆明-云南","line","#ED7D31"],["乌鲁木齐-新疆","line","#A5A5A5"],["湛江-广东","line","#FFC000"]]],647,738,{center:true});
}
// 5 巴西中南部双周糖产量
catChart({cats:brHalfMonths,k:1e6,x:30,y:781,w:390,h:145,ml:71,mr:12,mt:8,mb:52,rotate:-90,pad:4,
  yDomain:[0,3500000],yTicks:d3.range(0,3500001,500000),
  bars:[{vals:br2223,o1:-0.32,o2:0,fill:"url(#gGold)"},{vals:br2324,o1:0,o2:0.32,fill:"url(#gRed)"}],
  lines:[{vals:br1516,color:"#ED7D31"},{vals:br1617,color:"#A5A5A5"},{vals:br1718,color:"#FFC000"},{vals:br1819,color:"#4472C4"},{vals:br1920,color:"#70AD47"},{vals:br2021,color:"#264478",w:1.5},{vals:br2122,color:"#C55A11"}]});
ctitle(236,767,"巴西中南部双周糖产量");
legend([[["2022/23","bar","linear-gradient(#FFD966,#7F6000)"],["2023/24","bar","linear-gradient(#FF0000,#7A0000)"],["2015/16","line","#ED7D31"],["2016/17","line","#A5A5A5"],["2017/18","line","#FFC000"]],
        [["2018/19","line","#4472C4"],["2019/20","line","#70AD47"],["2020/21","line","#264478"],["2021/22","line","#C55A11"]]],96,943,{rowH:15});
// 6 乙醇折糖价、原糖优势
{
  const toL=v=>10+v*20/12, start=Date.UTC(2017,0,6);
  const negFmt=v=>"("+f2(-v)+")";
  const svg=Plot.plot({width:380,height:155,marginLeft:51,marginRight:48,marginTop:8,marginBottom:44,style:baseStyle,
    x:{domain:[0,76.7]},y:{domain:[0,30]},
    marks:[
      Plot.area(rawAdvantage,{x1:d=>d[0],y1:()=>10,y2:d=>toL(d[1]),fill:"#FFC000"}),
      Plot.axisY(d3.range(0,31,5),{tickSize:0,tickPadding:5,tickFormat:f2,label:null}),
      Plot.text(d3.range(0,13,2),{y:d=>toL(d),text:d=>f2(d),frameAnchor:"right",textAnchor:"start",dx:6,fill:"#595959",fontSize:8.5}),
      Plot.text([-2,-4,-6],{y:d=>toL(d),text:negFmt,frameAnchor:"right",textAnchor:"start",dx:6,fill:"#FF0000",fontSize:8.5}),
      Plot.ruleY([0],{stroke:"#D9D9D9"}),
      Plot.axisX(d3.range(0,77,4),{tickSize:3,stroke:"#BFBFBF",fill:DARK,tickRotate:-90,tickPadding:3,label:null,
        tickFormat:m=>d3.utcFormat("%Y/%-m/%-d")(d3.utcMonth.offset(new Date(start),m))}),
      LS(ethanolSugar,"#6FA8DC"),
      LS(rawSettle,"#F08C50")
    ]});
  place(svg,460,783);
  ctitle(658,775,"乙醇折糖价、原糖优势");
  legend([[["原糖优势","bar","#FFC000"],["乙醇折糖价","line","#9DC3E6"],["原糖结算价","line","#F4B183"]]],652,948,{center:true});
}
// 7/8/10 common legend
const seasonLegend=[[["21/22","bar","linear-gradient(#FFD966,#7F6000)"],["22/23","bar","linear-gradient(#FF0000,#7A0000)"],["13/14","line","#5B9BD5"],["14/15","line","#ED7D31"],["15/16","line","#A5A5A5"]],
  [["16/17","line","#FFD966"],["17/18","line","#8FAADC"],["18/19","line","#A9D18E"],["19/20","line","#264478"],["20/21","line","#997300"]]];
const seasonLines=(a)=>[{vals:a[0],color:"#5B9BD5"},{vals:a[1],color:"#ED7D31"},{vals:a[2],color:"#A5A5A5"},{vals:a[3],color:"#FFC000"},{vals:a[4],color:"#8FAADC"},{vals:a[5],color:"#70AD47"},{vals:a[6],color:"#264478"},{vals:a[7],color:"#997300",w:1.5}];
catChart({cats:seasonMonths,x:30,y:1002,w:380,h:145,ml:53,mr:19,mt:8,mb:22,yDomain:[0,400],yTicks:d3.range(0,401,50),pad:5,
  bars:[{vals:prod2122,o1:-0.24,o2:0,fill:"url(#gGold)"},{vals:prod2223,o1:0,o2:0.24,fill:"url(#gRed)"}],
  lines:seasonLines([prod1314,prod1415,prod1516,prod1617,prod1718,prod1819,prod1920,prod2021])});
ctitle(229,989,"全国单月产糖量：万吨");
legend(seasonLegend,115,1157,{rowH:13.5});
catChart({cats:seasonMonths,x:460,y:1002,w:380,h:145,ml:40,mr:29,mt:8,mb:21,yDomain:[0,160],yTicks:d3.range(0,161,20),pad:5,
  bars:[{vals:sales2122,o1:-0.24,o2:0,fill:"url(#gGold)"},{vals:sales2223,o1:0,o2:0.24,fill:"url(#gRed)"}],
  lines:seasonLines([sales1314,sales1415,sales1516,sales1617,sales1718,sales1819,sales1920,sales2021])});
ctitle(648,989,"全国单月销糖量：万吨");
legend(seasonLegend,534,1157,{rowH:13.5});
// 9 食糖进口数量
catChart({cats:importMonths,x:30,y:1218,w:380,h:160,ml:44,mr:24,mt:8,mb:24,yDomain:[0,100],yTicks:d3.range(0,101,20),pad:6,
  bars:[{vals:imp2223,o1:-0.3,o2:0,fill:"url(#gBlue)"},{vals:imp2324,o1:0,o2:0.3,fill:"url(#gRedL)"}],
  lines:[{vals:imp2122,color:"#ED7D31",w:2.4},{vals:imp2021,color:"#A5A5A5",w:2.4},{vals:imp1920,color:"#FFC000",w:2.4}]});
ctitle(220,1207,"食糖进口数量（月：万吨）");
legend([[["2022/23","bar","#5B9BD5"],["2023/24","bar","linear-gradient(#FF7070,#C00000)"],["2021/22","line","#ED7D31",3],["2020/21","line","#A5A5A5",3],["2019/20","line","#FFC000",3]]],222,1385,{center:true});
// 10 全国月度工业库存
catChart({cats:seasonMonths,x:460,y:1224,w:370,h:140,ml:45,mr:31,mt:8,mb:22,yDomain:[0,800],yTicks:d3.range(0,801,100),pad:5,
  bars:[{vals:stock2122,o1:-0.3,o2:0,fill:"url(#gGold)"},{vals:stock2223,o1:0,o2:0.3,fill:"url(#gRed)"}],
  lines:seasonLines([stock1314,stock1415,stock1516,stock1617,stock1718,stock1819,stock1920,stock2021])});
ctitle(644,1212,"全国月度工业库存：万吨");
legend(seasonLegend,537,1372,{rowH:13.5});
// 11 配额内
{
  const start=Date.UTC(2022,5,24);
  const svg=Plot.plot({width:360,height:155,marginLeft:63,marginRight:16,marginTop:8,marginBottom:48,style:baseStyle,
    x:{domain:[0,11.8]},y:{domain:[0,1600]},
    marks:[
      Plot.axisY(d3.range(0,1601,400),{tickSize:0,tickPadding:5,tickFormat:fc2,label:null}),
      Plot.ruleY([0],{stroke:"#D9D9D9"}),
      Plot.axisX(d3.range(12),{tickSize:4,stroke:"#D9D9D9",tickRotate:-50,tickPadding:2,label:null,
        tickFormat:m=>d3.utcFormat("%m-%d")(d3.utcMonth.offset(new Date(start),m))}),
      LS(quotaInBR,"#5B9BD5",1.2,d=>d[1],{clip:true}),
      LS(quotaInTH,"#FFC000",1.2,d=>d[1],{clip:true})
    ]});
  place(svg,30,1438);
  ctitle(218,1428,"进口糖价（配额内）与郑糖期价价差");
  legend([[["巴西糖","line","#5B9BD5"],["泰国糖","line","#FFC000"]]],218,1601,{center:true});
}
// 12 配额外
{
  const start=Date.UTC(2022,5,24);
  const svg=Plot.plot({width:370,height:155,marginLeft:68,marginRight:14,marginTop:8,marginBottom:53,style:baseStyle,
    x:{domain:[0,11.9]},y:{domain:[-1800,600]},
    marks:[
      Plot.axisY(d3.range(-1800,601,400),{tickSize:0,tickPadding:5,tickFormat:fc2,label:null}),
      Plot.ruleY([0],{stroke:"#D9D9D9"}),
      Plot.ruleX(d3.range(12),{x:d=>d,y1:()=>0,y2:()=>-110,stroke:"#D9D9D9"}),
      Plot.axisX(d3.range(12),{tickSize:0,tickRotate:-50,tickPadding:4,label:null,
        tickFormat:m=>d3.utcFormat("%m-%d")(d3.utcMonth.offset(new Date(start),m))}),
      LS(quotaOutBR,"#5B9BD5"),
      LS(quotaOutTH,"#FFC000")
    ]});
  place(svg,460,1445);
  ctitle(654,1424,"进口糖价（配额外）与郑糖期价价差");
  legend([[["巴西糖","line","#9DC3E6"],["泰国糖","line","#FFC000"]]],655,1605,{center:true});
}
// 13 印度双周累计产糖量
catChart({cats:indiaDates,x:30,y:1658,w:370,h:140,ml:48,mr:13,mt:8,mb:34,yDomain:[-200,3800],yTicks:d3.range(-200,3801,500),rotate:-50,pad:3,
  bars:[{vals:in2122,o1:-0.3,o2:0,fill:"url(#gGold)"},{vals:in2223,o1:0,o2:0.3,fill:"url(#gRed)"}],
  lines:[{vals:in1112,color:"#9DC3E6"},{vals:in1213,color:"#F4B183"},{vals:in1314,color:"#C9C9C9"},{vals:in1415,color:"#FFD966"},{vals:in1516,color:"#4472C4"},{vals:in1617,color:"#70AD47"},{vals:in1718,color:"#264478"},{vals:in1819,color:"#997300"},{vals:in1920,color:"#636363"},{vals:in2021,color:"#9E480E"}]});
ctitle(222,1646,"印度双周累计产糖量");
legend([[["21/22","bar","linear-gradient(#FFD966,#7F6000)"],["22/23","bar","linear-gradient(#FF0000,#7A0000)"],["11/12","line","#9DC3E6"],["12/13","line","#F4B183"],["13/14","line","#C9C9C9"],["14/15","line","#FFD966"]],
        [["15/16","line","#4472C4"],["16/17","line","#70AD47"],["17/18","line","#264478"],["18/19","line","#997300"],["19/20","line","#636363"],["20/21","line","#9E480E"]]],94,1803,{rowH:14});
// 14 泰国双周产糖量
catChart({cats:thaiHalfMonths,k:1e6,x:455,y:1654,w:375,h:140,ml:67,mr:14,mt:8,mb:46,yDomain:[0,16000000],yTicks:d3.range(0,16000001,2000000),rotate:-55,pad:3,
  bars:[{vals:th2122,o1:-0.3,o2:0,fill:"#FBE5D6"},{vals:th2223,o1:0,o2:0.3,fill:"url(#gRed2)"}],
  lines:[{vals:th1415,color:"#9DC3E6"},{vals:th1516,color:"#F4B183"},{vals:th1617,color:"#C9C9C9"},{vals:th1718,color:"#FFC000"},{vals:th1819,color:"#4472C4"},{vals:th1920,color:"#70AD47"},{vals:th2021,color:"#264478",w:3}]});
ctitle(651,1644,"泰国双周产糖量（累计值）：吨");
legend([[["21/22","bar","#FBE5D6"],["22/23","bar","linear-gradient(#FF4B4B,#8B2323)"],["14/15","line","#9DC3E6"],["15/16","line","#F4B183"],["16/17","line","#C9C9C9"]],
        [["17/18","line","#FFC000"],["18/19","line","#4472C4"],["19/20","line","#70AD47"],["20/21","line","#264478",3]]],543,1807,{rowH:12.5});

// ================= COMMENTARY & FOOTER =================
text(441,1858,commentHeader,{bold:true,size:15});
const cIndent=[1,0,0,0,1,0,0,0,0], cLast=[0,0,0,1,0,0,0,0,1];
commentLines.forEach((s,i)=>{const ind=cIndent[i]?32:0;para(5+ind,1898+i*19.1,872-ind,s,{last:cLast[i]});});
const footerY=[2108,2145,2165,2203,2223,2242,2279,2298,2318,2337,2375,2413];
footerLines.forEach((s,i)=>text(5,footerY[i],s,{left:true,size:15.5}));
disclaimerLines.forEach((s,i)=>para(5,2432+i*19.1,872,s,{last:i===disclaimerLines.length-1}));
</script>
</body></html>
